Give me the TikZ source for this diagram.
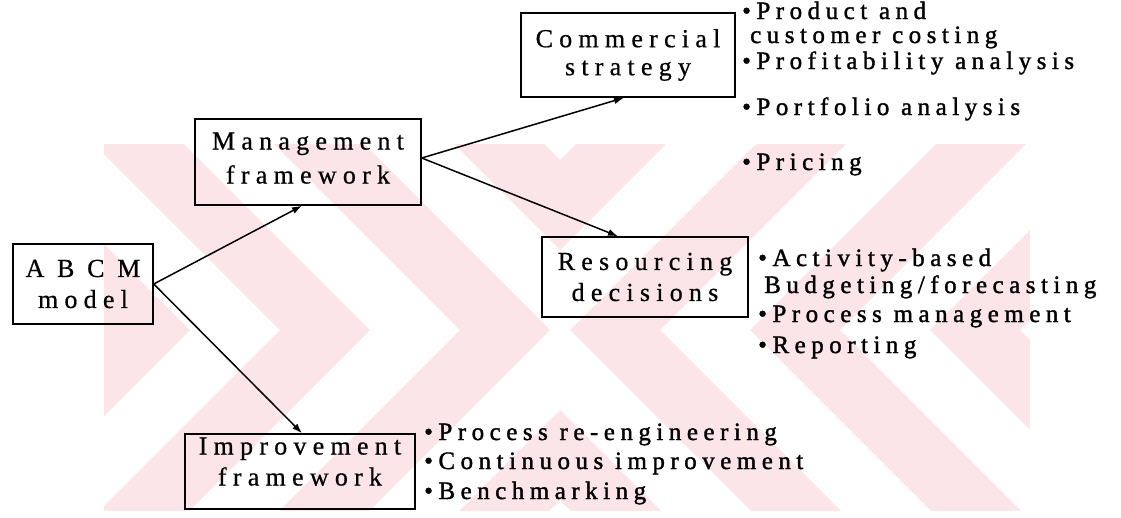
\documentclass[tikz,border=0pt]{standalone}
\usepackage{fontspec}
\setmainfont{Liberation Serif}
\usetikzlibrary{arrows.meta}
\definecolor{wm}{RGB}{252,229,233}
\newfontfamily\lblfam[LetterSpace=24,FakeBold=0.6]{Liberation Serif}
\newfontfamily\lstfam[LetterSpace=22,FakeBold=1.4]{Liberation Serif}
\newcommand\lblfont{\lblfam\fontsize{26}{31}\selectfont}
\newcommand\lstfont{\lstfam\fontsize{25}{28}\selectfont}
\begin{document}
\begin{tikzpicture}[x=1pt,y=-1pt,
  box/.style={draw, line width=1.5pt, inner sep=0pt, align=center, font=\lblfont},
  item/.style={anchor=base west, inner sep=0pt, font=\lstfont},
  arr/.style={line width=1.5pt, -{Latex[length=10pt,width=7pt]}},
  band/.style={fill=wm, draw=none}]
\useasboundingbox (0,0) rectangle (1121,517);
% watermark: stripes of |x-cx|-|y-cy| = const
\def\cx{560}\def\cy{330}\def\H{500}\def\w{90}
\begin{scope}
  \clip (104,144) rectangle (1030,510);
  \foreach \a in {10,190,370} {
    \fill[band] (\cx-\a,\cy) -- (\cx-\a-\H,\cy-\H) -- (\cx-\a-\w-\H,\cy-\H) -- (\cx-\a-\w,\cy)
      -- (\cx-\a-\w-\H,\cy+\H) -- (\cx-\a-\H,\cy+\H) -- cycle;
    \fill[band] (\cx+\a,\cy) -- (\cx+\a+\H,\cy-\H) -- (\cx+\a+\w+\H,\cy-\H) -- (\cx+\a+\w,\cy)
      -- (\cx+\a+\w+\H,\cy+\H) -- (\cx+\a+\H,\cy+\H) -- cycle;
  }
  \foreach \b/\c in {80/170} {
    \fill[band] (\cx,\cy-\b) -- (\cx+\H,\cy-\b-\H) -- (\cx+\H,\cy-\c-\H) -- (\cx,\cy-\c)
      -- (\cx-\H,\cy-\c-\H) -- (\cx-\H,\cy-\b-\H) -- cycle;
    \fill[band] (\cx,\cy+\b) -- (\cx+\H,\cy+\b+\H) -- (\cx+\H,\cy+\c+\H) -- (\cx,\cy+\c)
      -- (\cx-\H,\cy+\c+\H) -- (\cx-\H,\cy+\b+\H) -- cycle;
  }
\end{scope}
% boxes
\node[box, minimum width=140pt, minimum height=80pt] (abcm) at (83,284) {A B C M\\model};
\node[box, minimum width=226pt, minimum height=86pt, text depth=8pt] (mgmt) at (308,162) {Management\\[3pt]framework};
\node[box, minimum width=214pt, minimum height=84pt] (comm) at (628,55) {Commercial\\[-3pt]strategy};
\node[box, minimum width=206pt, minimum height=80pt] (res) at (645,277) {Resourcing\\decisions};
\node[box, minimum width=230pt, minimum height=75pt, text depth=20pt] (imp) at (300,471.5) {Improvement\\framework};
% connectors
\draw[arr] (abcm.east) -- ([xshift=-6pt]mgmt.south);
\draw[arr] (abcm.east) -- ([xshift=2pt]imp.north);
\draw[arr] ([yshift=4pt]mgmt.east) -- ([xshift=-4pt]comm.south);
\draw[arr] ([yshift=4pt]mgmt.east) -- ([xshift=-27pt]res.north);
% lists
\node[item] (c1) at (742,19) {•Product and};
\node[item] (c2) at (750,43) {customer costing};
\node[item] (c3) at (742,69) {•Profitability analysis};
\node[item] (c4) at (742,115) {•Portfolio analysis};
\node[item] (c5) at (742,170) {•Pricing};
\node[item] (r1) at (758,266) {•Activity-based};
\node[item] (r2) at (764,293) {Budgeting/forecasting};
\node[item] (r3) at (758,322) {•Process management};
\node[item] (r4) at (758,353) {•Reporting};
\node[item] (i1) at (424,440) {•Process re-engineering};
\node[item] (i2) at (424,469) {•Continuous improvement};
\node[item] (i3) at (424,499) {•Benchmarking};
\end{tikzpicture}
\end{document}
